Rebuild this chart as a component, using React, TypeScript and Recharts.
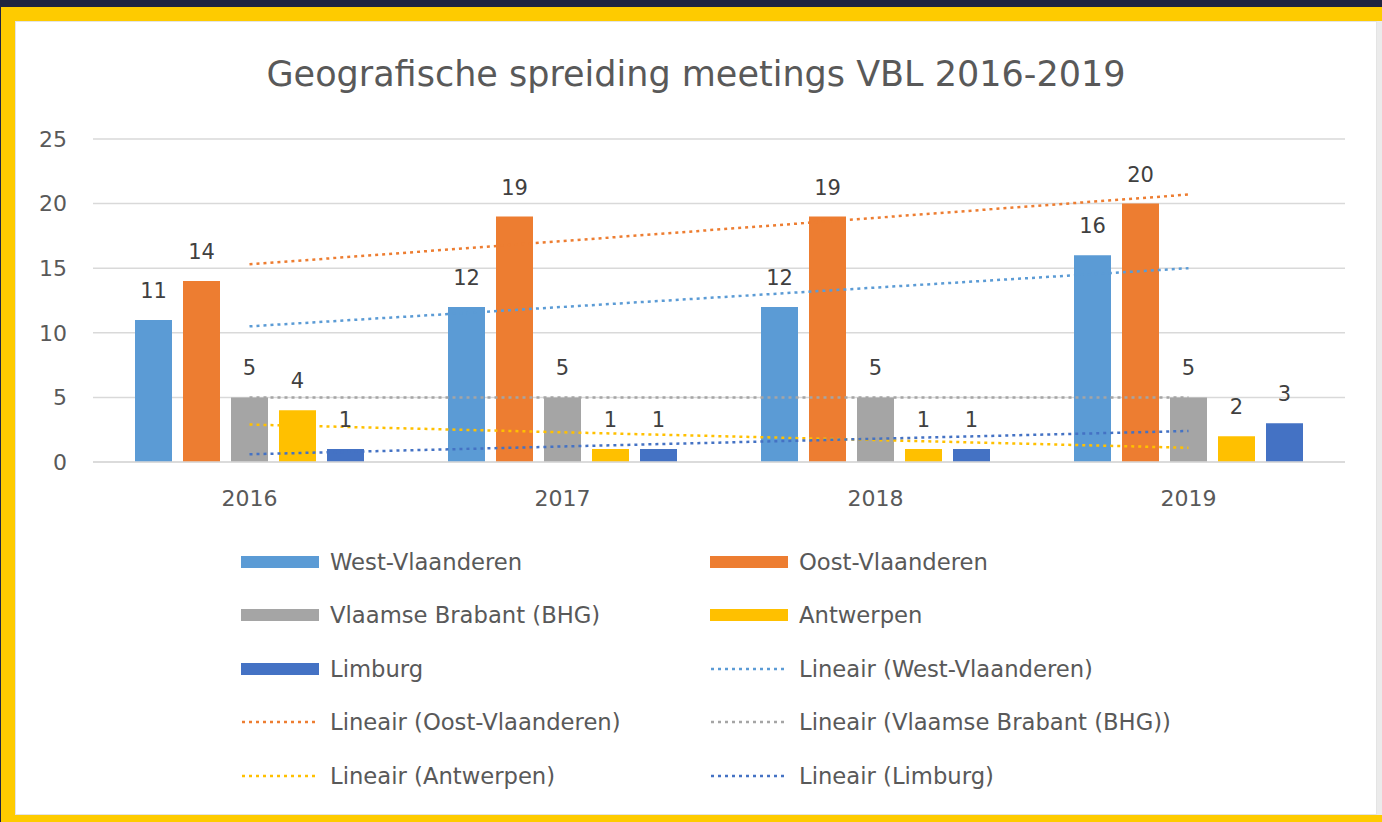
import React from 'react';
import { ComposedChart, Bar, Line, XAxis, YAxis, CartesianGrid, Legend, LabelList } from 'recharts';

const years = ['2016', '2017', '2018', '2019'];
const westVlaanderen = [11, 12, 12, 16];
const oostVlaanderen = [14, 19, 19, 20];
const vlaamsBrabant = [5, 5, 5, 5];
const antwerpen = [4, 1, 1, 2];
const limburg = [1, 1, 1, 3];

// linear trend lines (Excel "Lineair" trendlines)
const trendWest = [10.5, 12, 13.5, 15];
const trendOost = [15.3, 17.1, 18.9, 20.7];
const trendBrabant = [5, 5, 5, 5];
const trendAntwerpen = [2.9, 2.3, 1.7, 1.1];
const trendLimburg = [0.6, 1.2, 1.8, 2.4];

const yTicks = [0, 5, 10, 15, 20, 25];

const FONT = '"DejaVu Sans", sans-serif';

const series = [
  { key: 'west', name: 'West-Vlaanderen', color: '#5b9bd5' },
  { key: 'oost', name: 'Oost-Vlaanderen', color: '#ed7d31' },
  { key: 'brabant', name: 'Vlaamse Brabant (BHG)', color: '#a5a5a5' },
  { key: 'antwerpen', name: 'Antwerpen', color: '#ffc000' },
  { key: 'limburg', name: 'Limburg', color: '#4472c4' },
];

const data = years.map((year, i) => ({
  year,
  west: westVlaanderen[i],
  oost: oostVlaanderen[i],
  brabant: vlaamsBrabant[i],
  antwerpen: antwerpen[i],
  limburg: limburg[i],
  trendWest: trendWest[i],
  trendOost: trendOost[i],
  trendBrabant: trendBrabant[i],
  trendAntwerpen: trendAntwerpen[i],
  trendLimburg: trendLimburg[i],
}));

const trendKeys = ['trendWest', 'trendOost', 'trendBrabant', 'trendAntwerpen', 'trendLimburg'];

const legendItems = [
  ...series.map((s) => ({ name: s.name, color: s.color, dotted: false })),
  ...series.map((s) => ({ name: `Lineair (${s.name})`, color: s.color, dotted: true })),
];

const LegendContent = () => (
  <div
    style={{
      display: 'grid',
      gridTemplateColumns: '469px 1fr',
      gridAutoRows: '53.5px',
      paddingLeft: 241,
      fontFamily: FONT,
      fontSize: 22.7,
      color: '#595959',
    }}
  >
    {legendItems.map((it) => (
      <div key={it.name} style={{ display: 'flex', alignItems: 'center' }}>
        <svg width={78} height={14} style={{ marginRight: 11, flex: 'none' }}>
          {it.dotted ? (
            <line x1={1} y1={7} x2={78} y2={7} stroke={it.color} strokeWidth={2.5} strokeDasharray="3 4" />
          ) : (
            <rect x={0} y={1} width={78} height={12} fill={it.color} />
          )}
        </svg>
        <span style={{ whiteSpace: 'nowrap' }}>{it.name}</span>
      </div>
    ))}
  </div>
);

export default function App() {
  return (
    <div style={{ position: 'absolute', left: 0, top: 0, width: 1382, height: 822, overflow: 'hidden', background: '#fecb00' }}>
      <div style={{ position: 'absolute', left: 0, top: 0, width: 1382, height: 7, background: '#1f2440' }} />
      <div style={{ position: 'absolute', left: 0, top: 0, width: 1, height: 822, background: '#1f2440' }} />
      <div style={{ position: 'absolute', left: 1377, top: 21, width: 5, height: 794, background: '#ebebeb' }} />
      <div
        style={{
          position: 'absolute',
          left: 15,
          top: 21,
          width: 1360,
          height: 792,
          background: '#ffffff',
          border: '1px solid #e4e4e4',
        }}
      />
      <div
        style={{
          position: 'absolute',
          left: 15,
          top: 51,
          width: 1362,
          textAlign: 'center',
          fontFamily: FONT,
          fontSize: 35,
          color: '#595959',
          lineHeight: '46px',
        }}
      >
        Geografische spreiding meetings VBL 2016-2019
      </div>
      <div style={{ position: 'absolute', left: 0, top: 0 }}>
        <ComposedChart
          width={1382}
          height={822}
          data={data}
          margin={{ top: 139, right: 37, bottom: 320, left: 0 }}
          barCategoryGap={42}
          barGap={11}
        >
          <CartesianGrid vertical={false} stroke="#d9d9d9" strokeWidth={1.5} />
          <XAxis
            dataKey="year"
            height={40}
            axisLine={{ stroke: '#d9d9d9', strokeWidth: 1.5 }}
            tickLine={false}
            tickSize={6}
            tickMargin={22}
            tick={{ fill: '#595959', fontSize: 22, fontFamily: FONT }}
          />
          <YAxis
            width={93}
            domain={[0, 25]}
            ticks={yTicks}
            axisLine={false}
            tickLine={false}
            tickSize={6}
            tickMargin={20}
            tick={{ fill: '#595959', fontSize: 22, fontFamily: FONT }}
          />
          <Legend
            layout="horizontal"
            verticalAlign="middle"
            align="center"
            wrapperStyle={{ left: 0, top: 535, width: 1382 }}
            content={<LegendContent />}
          />
          {series.map((s) => (
            <Bar key={s.key} dataKey={s.key} name={s.name} fill={s.color} isAnimationActive={false}>
              <LabelList
                dataKey={s.key}
                position="top"
                offset={22}
                style={{ fill: '#404040', fontSize: 21, fontFamily: FONT }}
              />
            </Bar>
          ))}
          {series.map((s, i) => (
            <Line
              key={trendKeys[i]}
              dataKey={trendKeys[i]}
              name={`Lineair (${s.name})`}
              stroke={s.color}
              strokeWidth={2.5}
              strokeDasharray="3 4"
              dot={false}
              activeDot={false}
              isAnimationActive={false}
            />
          ))}
        </ComposedChart>
      </div>
    </div>
  );
}
